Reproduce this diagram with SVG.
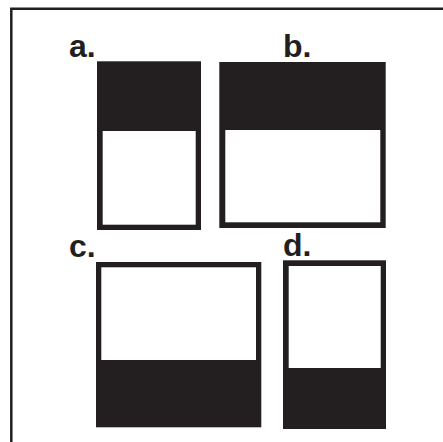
<svg xmlns="http://www.w3.org/2000/svg" width="443" height="442" viewBox="0 0 443 442">
<style>
.blk{fill:#231f20}
.wht{fill:#ffffff}
.lbl{font-family:"Liberation Sans",Arial,sans-serif;font-weight:bold;font-size:32px;fill:#231f20}
.frame{fill:none;stroke:#231f20;stroke-width:2.5}
</style>
<rect width="443" height="442" fill="#ffffff"/>
<path class="frame" d="M11.3,442 V8.7 H443"/>
<g id="node-a">
<text class="lbl" x="69" y="57">a.</text>
<rect class="blk" x="97" y="61.3" width="104" height="168.7"/>
<rect class="wht" x="102.7" y="131" width="93" height="93.7"/>
</g>
<g id="node-b">
<text class="lbl" x="283" y="57">b.</text>
<rect class="blk" x="219.3" y="62" width="166.4" height="166"/>
<rect class="wht" x="225.3" y="130" width="155" height="92.3"/>
</g>
<g id="node-c">
<text class="lbl" x="69" y="257">c.</text>
<rect class="blk" x="96" y="262" width="165.3" height="165.3"/>
<rect class="wht" x="101.3" y="267.3" width="154.7" height="92.7"/>
</g>
<g id="node-d">
<text class="lbl" x="283" y="256">d.</text>
<rect class="blk" x="283" y="260.3" width="103" height="168.7"/>
<rect class="wht" x="288.7" y="266" width="92" height="102"/>
</g>
<g id="connectors"></g>
</svg>
